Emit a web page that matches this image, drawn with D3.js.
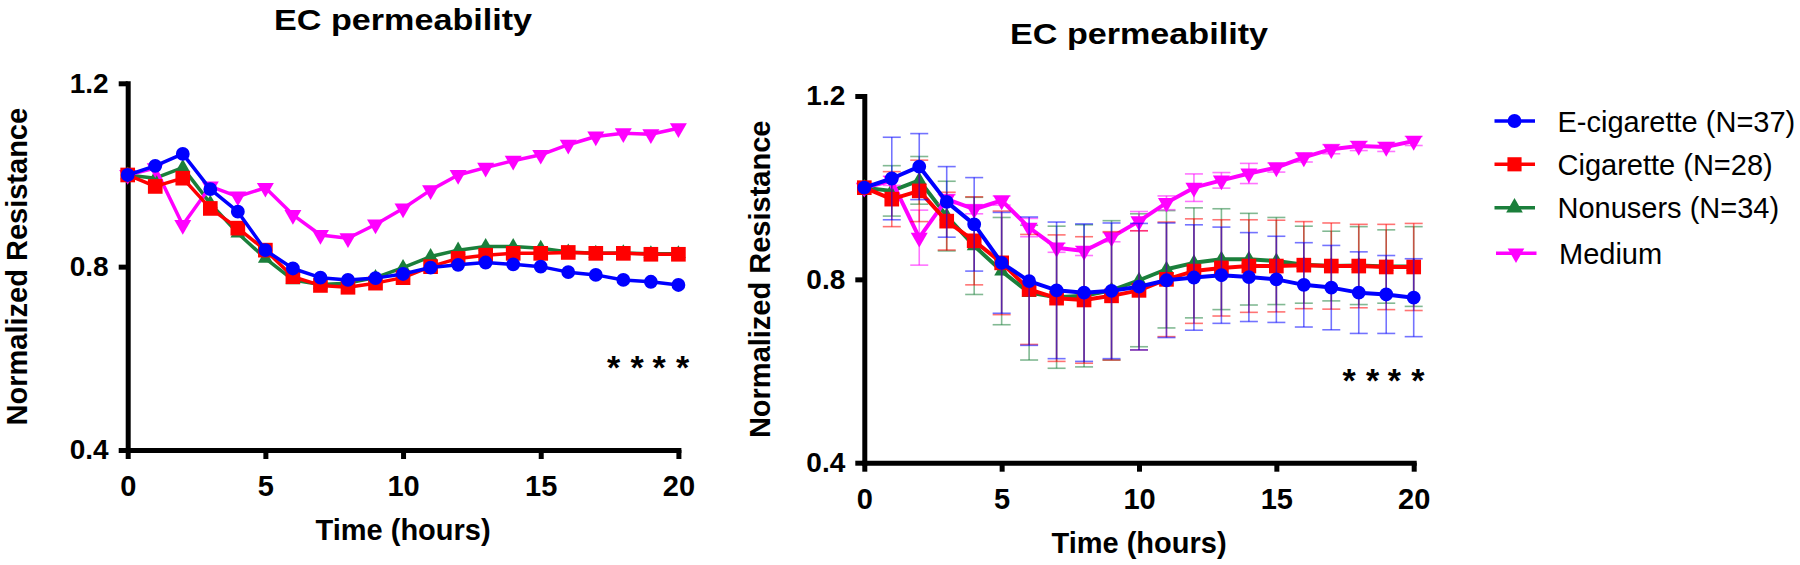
<!DOCTYPE html>
<html>
<head>
<meta charset="utf-8">
<script src="https://cdn.jsdelivr.net/npm/d3@7"></script>
<style>
  html, body { margin: 0; padding: 0; background: #ffffff; }
  svg { display: block; }
</style>
</head>
<body>
<script>
// ---------------- DATA ----------------
const hours = [0,1,2,3,4,5,6,7,8,9,10,11,12,13,14,15,16,17,18,19,20];
const xTickValues = [0,5,10,15,20];
const yTickValues = [0.4,0.8,1.2];
const seriesNames = ["E-cigarette (N=37)", "Cigarette (N=28)", "Nonusers (N=34)", "Medium"];

const ecig   = [1.000,1.020,1.046,0.969,0.920,0.836,0.796,0.776,0.771,0.775,0.784,0.798,0.804,0.809,0.805,0.800,0.788,0.782,0.771,0.767,0.760];
const cig    = [1.000,0.975,0.993,0.927,0.884,0.836,0.778,0.759,0.755,0.764,0.776,0.800,0.818,0.825,0.829,0.829,0.831,0.829,0.829,0.827,0.827];
const non    = [1.000,0.993,1.016,0.938,0.873,0.818,0.771,0.761,0.764,0.776,0.798,0.822,0.836,0.844,0.844,0.840,0.832,0.829,0.830,0.828,0.828];
const medium = [1.000,1.015,0.891,0.975,0.953,0.972,0.913,0.869,0.862,0.892,0.927,0.967,1.000,1.016,1.031,1.044,1.066,1.084,1.091,1.089,1.102];

const ecigErr   = [0.000,0.090,0.072,0.077,0.102,0.110,0.140,0.149,0.150,0.148,0.138,0.125,0.115,0.105,0.097,0.094,0.092,0.092,0.089,0.085,0.085];
const cigErr    = [0.000,0.060,0.067,0.063,0.096,0.113,0.120,0.138,0.138,0.140,0.130,0.125,0.114,0.105,0.101,0.100,0.095,0.094,0.091,0.093,0.095];
const nonErr    = [0.000,0.055,0.052,0.076,0.106,0.117,0.147,0.155,0.155,0.152,0.145,0.128,0.120,0.110,0.100,0.095,0.084,0.076,0.085,0.080,0.087];
const mediumErr = [0.000,0.010,0.060,0.010,0.010,0.010,0.020,0.010,0.010,0.010,0.021,0.015,0.030,0.017,0.022,0.010,0.010,0.010,0.010,0.010,0.010];

const starHours = [17.65, 18.5, 19.3, 20.15];
const starValue = 0.594;

// ---------------- STYLE ----------------
const FONT = "'Liberation Sans', Arial, Helvetica, sans-serif";
const series = [
  { name: seriesNames[2], values: non,    err: nonErr,    color: "#1b7f3b", shape: "triUp",   size: 95 },
  { name: seriesNames[3], values: medium, err: mediumErr, color: "#ff00ff", shape: "triDown", size: 125 },
  { name: seriesNames[1], values: cig,    err: cigErr,    color: "#ff0000", shape: "square",  size: 215 },
  { name: seriesNames[0], values: ecig,   err: ecigErr,   color: "#0000ff", shape: "circle",  size: 150 }
];

const W = 1800, H = 565;
const svg = d3.select("body").append("svg")
  .attr("width", W).attr("height", H)
  .style("font-family", FONT);
svg.append("rect").attr("width", W).attr("height", H).attr("fill", "#fff");

function symbolPath(shape, size) {
  const map = { circle: d3.symbolCircle, square: d3.symbolSquare, triUp: d3.symbolTriangle, triDown: d3.symbolTriangle };
  return d3.symbol().type(map[shape]).size(size)();
}

function drawPanel(opt) {
  const x = d3.scaleLinear().domain([0, 20]).range([opt.x0, opt.x1]);
  const y = d3.scaleLinear().domain([0.4, 1.2]).range([opt.yb, opt.yt]);
  const g = svg.append("g");

  // title
  g.append("text")
    .attr("x", (opt.x0 + opt.x1) / 2).attr("y", opt.titleY)
    .attr("text-anchor", "middle")
    .attr("font-size", 30).attr("font-weight", "bold")
    .attr("textLength", 258).attr("lengthAdjust", "spacingAndGlyphs")
    .text("EC permeability");

  // axes
  const xAxis = d3.axisBottom(x).tickValues(xTickValues).tickSize(9).tickSizeOuter(0)
    .tickPadding(16.5).tickFormat(d3.format("d"));
  const gx = g.append("g").attr("transform", `translate(0,${opt.yb})`).call(xAxis);
  const yAxis = d3.axisLeft(y).tickValues(yTickValues).tickSize(9).tickSizeOuter(0)
    .tickPadding(10).tickFormat(d3.format(".1f"));
  const gy = g.append("g").attr("transform", `translate(${opt.x0},0)`).call(yAxis);

  [gx, gy].forEach(a => {
    a.select(".domain").attr("stroke", "#000").attr("stroke-width", 5).attr("stroke-linecap", "square");
    a.selectAll(".tick line").attr("stroke", "#000").attr("stroke-width", 5);
    a.selectAll(".tick text").attr("fill", "#000").attr("font-weight", "bold").attr("font-family", FONT);
  });
  gx.selectAll(".tick text").attr("font-size", 29);
  gy.selectAll(".tick text").attr("font-size", 28);

  // axis titles
  g.append("text")
    .attr("x", (opt.x0 + opt.x1) / 2).attr("y", opt.yb + 90)
    .attr("text-anchor", "middle").attr("font-size", 29).attr("font-weight", "bold")
    .text("Time (hours)");
  g.append("text")
    .attr("transform", `translate(${opt.ylabX},${(opt.yt + opt.yb) / 2}) rotate(-90)`)
    .attr("text-anchor", "middle").attr("font-size", 29).attr("font-weight", "bold")
    .text("Normalized Resistance");

  // series
  const line = d3.line().x((d, i) => x(hours[i])).y(d => y(d));
  series.forEach(s => {
    const sg = g.append("g");
    if (opt.errors) {
      const eg = sg.append("g").attr("stroke", s.color).attr("stroke-width", 1.6).attr("stroke-opacity", 0.55).attr("fill", "none");
      s.values.forEach((v, i) => {
        const e = s.err[i];
        if (e <= 0) return;
        const cx = x(hours[i]);
        eg.append("line").attr("x1", cx).attr("x2", cx).attr("y1", y(v - e)).attr("y2", y(v + e));
        eg.append("line").attr("x1", cx - 9).attr("x2", cx + 9).attr("y1", y(v + e)).attr("y2", y(v + e));
        eg.append("line").attr("x1", cx - 9).attr("x2", cx + 9).attr("y1", y(v - e)).attr("y2", y(v - e));
      });
    }
    sg.append("path").datum(s.values)
      .attr("d", line).attr("fill", "none")
      .attr("stroke", s.color).attr("stroke-width", opt.lw).attr("stroke-linejoin", "round");
    sg.selectAll("path.mk").data(s.values).enter().append("path")
      .attr("class", "mk")
      .attr("d", symbolPath(s.shape, s.size))
      .attr("fill", s.color)
      .attr("transform", (d, i) => `translate(${x(hours[i])},${y(d)})` + (s.shape === "triDown" ? " rotate(180)" : ""));
  });

  // significance stars
  g.selectAll("text.star").data(starHours).enter().append("text")
    .attr("class", "star")
    .attr("x", d => x(d)).attr("y", y(starValue) + 18)
    .attr("text-anchor", "middle").attr("font-size", 34).attr("font-weight", "bold")
    .text("*");
}

drawPanel({ x0: 127.7, x1: 678.4, yt: 83.3, yb: 450, titleY: 29.5, ylabX: 27, lw: 3.5, errors: false });
drawPanel({ x0: 864.3, x1: 1413.7, yt: 96, yb: 462.7, titleY: 43.5, ylabX: 770, lw: 4, errors: true });

// ---------------- LEGEND ----------------
const legendOrder = [
  { name: seriesNames[0], color: "#0000ff", shape: "circle",  size: 150 },
  { name: seriesNames[1], color: "#ff0000", shape: "square",  size: 200 },
  { name: seriesNames[2], color: "#1b7f3b", shape: "triUp",   size: 120 },
  { name: seriesNames[3], color: "#ff00ff", shape: "triDown", size: 120 }
];
const legendRows = [121, 164.3, 207.7, 253.3];
const leg = svg.append("g");
legendOrder.forEach((s, i) => {
  const yy = legendRows[i];
  const off = i === 3 ? 1.5 : 0;
  leg.append("line").attr("x1", 1494.5 + off).attr("x2", 1535 + off).attr("y1", yy).attr("y2", yy)
    .attr("stroke", s.color).attr("stroke-width", 3.5);
  leg.append("path").attr("d", symbolPath(s.shape, s.size)).attr("fill", s.color)
    .attr("transform", `translate(${1514.5 + off},${yy})` + (s.shape === "triDown" ? " rotate(180)" : ""));
  leg.append("text").attr("x", 1557.5 + off).attr("y", yy + 10.5)
    .attr("font-size", 29).attr("fill", "#000").text(s.name);
});
</script>
</body>
</html>
